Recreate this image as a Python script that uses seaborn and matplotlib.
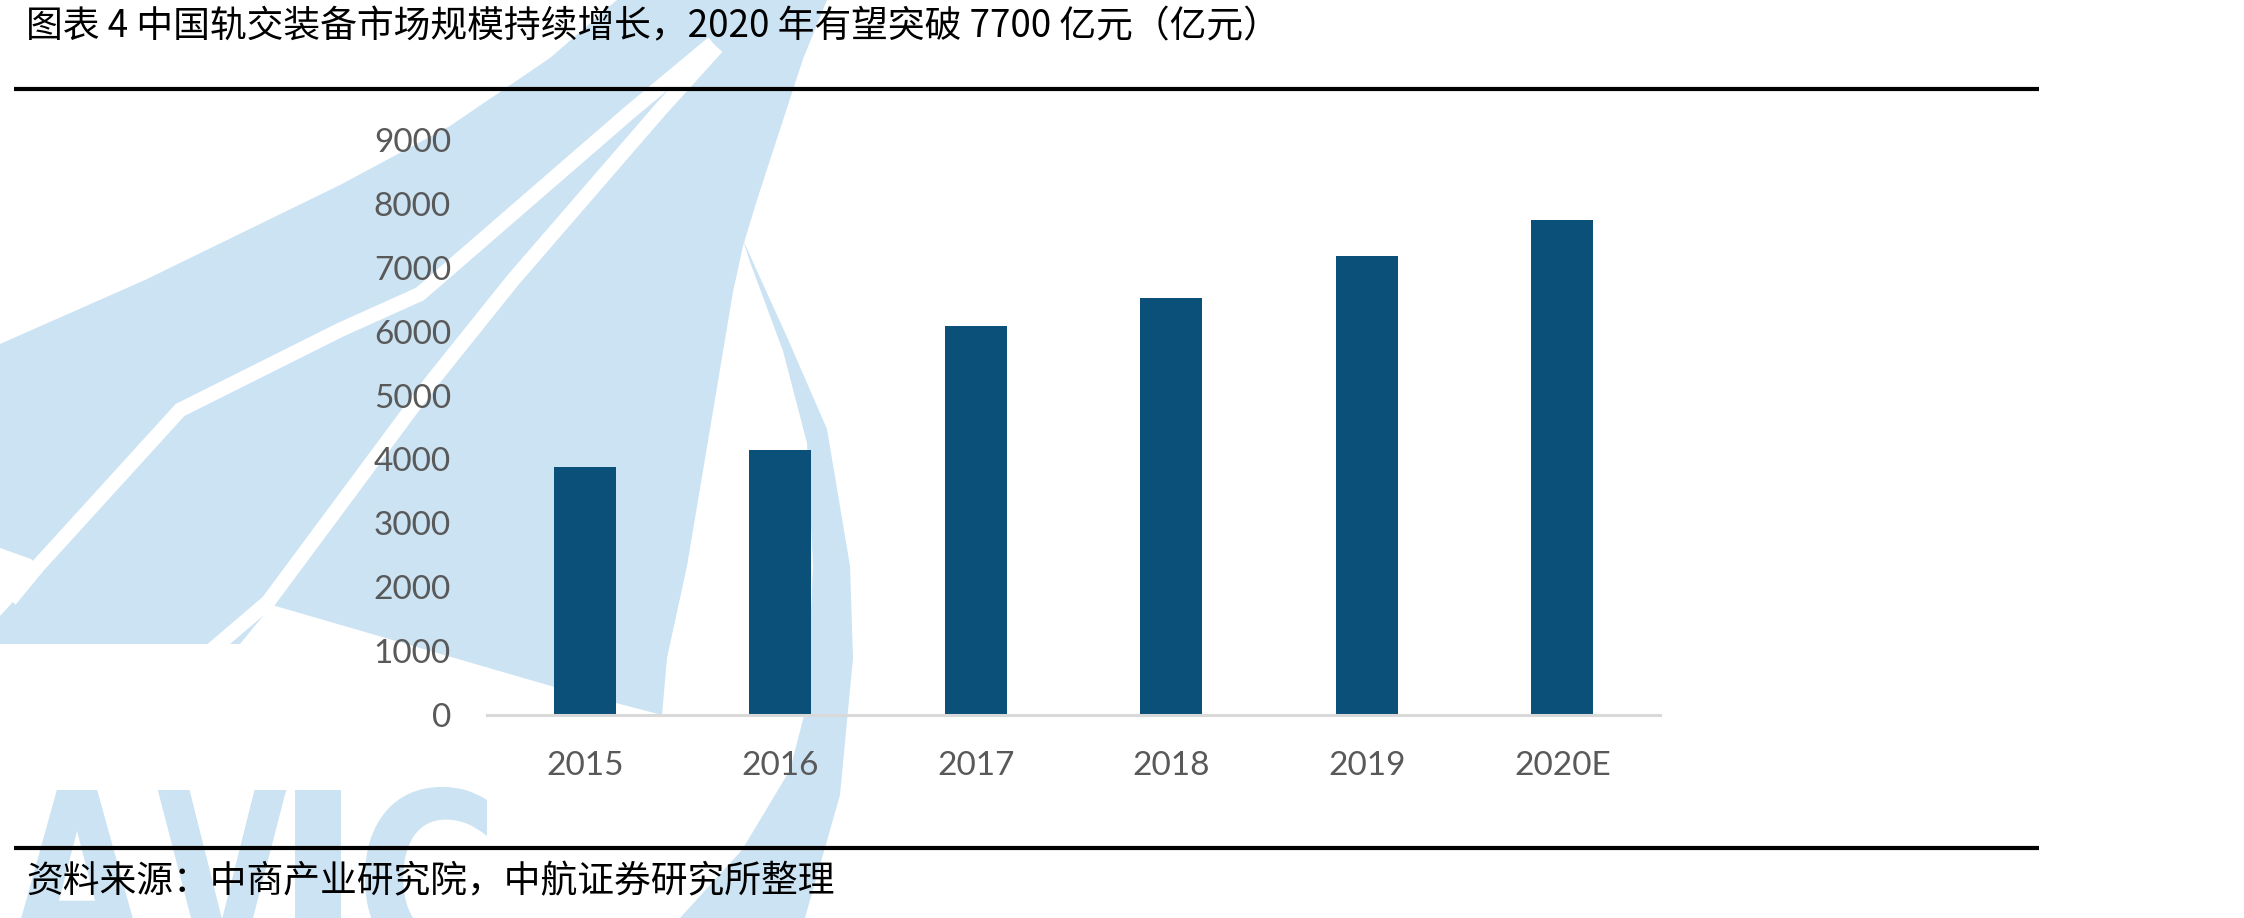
import matplotlib
matplotlib.use("Agg")
import matplotlib.pyplot as plt
import seaborn as sns
from matplotlib.patches import Polygon, PathPatch
from matplotlib.textpath import TextPath
from matplotlib.font_manager import FontProperties
from matplotlib.transforms import Affine2D

# ---------------- data ----------------
years = ["2015", "2016", "2017", "2018", "2019", "2020E"]
market_size = [3885, 4150, 6095, 6520, 7180, 7750]
y_ticks = [0, 1000, 2000, 3000, 4000, 5000, 6000, 7000, 8000, 9000]
title_text = "图表 4 中国轨交装备市场规模持续增长，2020 年有望突破 7700 亿元（亿元）"
source_text = "资料来源：中商产业研究院，中航证券研究所整理"

# ---------------- style ----------------
sns.set_style("white")
plt.rcParams['font.family'] = ['Lato', 'DejaVu Sans']

W, H = 2244, 918
fig = plt.figure(figsize=(W / 100, H / 100), dpi=100)
fig.patch.set_facecolor("white")

# background layer in pixel coordinates (y downwards) for the watermark and rules
bg = fig.add_axes([0, 0, 1, 1], zorder=0)
bg.set_xlim(0, W)
bg.set_ylim(H, 0)
bg.axis("off")

wm = "#CCE3F3"
main_shape = [(0, 344), (145, 280), (340, 185), (450, 126), (550, 58), (617, 0),
              (827, 0), (803, 59), (757, 200), (743, 246), (733, 292), (710, 429),
              (687, 566), (667, 658), (662, 715), (551, 686), (272, 605),
              (240, 644), (0, 644)]
bg.add_patch(Polygon(main_shape, closed=True, facecolor=wm, edgecolor="none", zorder=1))
arc_shape = [(743, 240), (787, 337), (827, 429), (850, 566), (853, 658), (840, 795),
             (805, 918), (680, 918), (742, 850), (790, 770), (807, 704), (813, 566),
             (807, 443), (783, 351), (750, 262)]
bg.add_patch(Polygon(arc_shape, closed=True, facecolor=wm, edgecolor="none", zorder=1))
bg.add_patch(Polygon([(0, 548), (31, 559), (42, 570), (0, 616)], closed=True,
                     facecolor="white", edgecolor="none", zorder=1.5))
s1 = [(10, 600), (38, 566), (180, 410), (340, 330), (420, 294), (630, 112), (713, 43)]
s2 = [(200, 660), (268, 602), (432, 381), (513, 280), (660, 110), (717, 47)]
for s in (s1, s2):
    bg.plot([p[0] for p in s], [p[1] for p in s], color="white", lw=10.5,
            solid_capstyle="butt", solid_joinstyle="miter", zorder=1.6)

fp = FontProperties(family="DejaVu Sans", weight="bold")
for ch, cx, sx in zip("AVIC", [77, 222, 318, 426], [0.75, 0.7, 1.0, 0.82]):
    tp = TextPath((0, 0), ch, size=240, prop=fp)
    ext = tp.get_extents()
    tr = Affine2D().translate(-(ext.x0 + ext.width / 2), 0).scale(sx, -1).translate(cx, 965)
    bg.add_patch(PathPatch(tr.transform_path(tp), facecolor=wm, edgecolor="none", zorder=1))

# rules
bg.plot([14, 2039], [89, 89], color="black", lw=3, solid_capstyle="butt", zorder=3)
bg.plot([14, 2039], [848, 848], color="black", lw=3, solid_capstyle="butt", zorder=3)

cjk = ["Noto Sans CJK SC", "DejaVu Sans"]
bg.text(26, 27, title_text, fontsize=26.5, family=cjk, va="center", ha="left", color="black", zorder=4)
bg.text(26, 882, source_text, fontsize=26.5, family=cjk, va="center", ha="left", color="black", zorder=4)

# ---------------- main chart ----------------
ax = fig.add_axes([487 / W, 1 - 715 / H, 1173 / W, (715 - 140) / H], zorder=1)
ax.patch.set_alpha(0)
sns.barplot(x=years, y=market_size, color="#0B5078", saturation=1, width=0.317,
            errorbar=None, linewidth=0, ax=ax)
ax.set_xlim(-0.5, len(years) - 0.5)
ax.set_ylim(0, 9000)
ax.set_yticks(y_ticks)
ax.set_yticklabels([str(v) for v in y_ticks])
ax.tick_params(axis="both", length=0, labelsize=24, labelcolor="#595959")
ax.tick_params(axis="y", pad=26)
ax.tick_params(axis="x", pad=26)
for s in ["top", "right", "left"]:
    ax.spines[s].set_visible(False)
ax.spines["bottom"].set_color("#D9D9D9")
ax.spines["bottom"].set_linewidth(2.2)
ax.set_xlabel("")
ax.set_ylabel("")
ax.grid(False)

fig.savefig("out.png", dpi=100, facecolor="white")
